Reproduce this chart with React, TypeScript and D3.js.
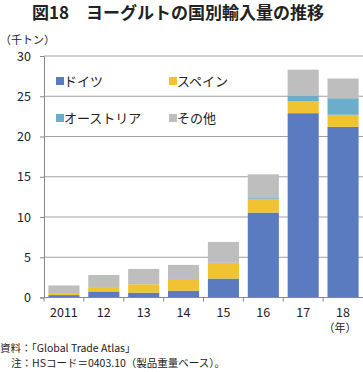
import React, { useEffect, useRef } from 'react';
import * as d3 from 'd3';

const years = ['2011', '12', '13', '14', '15', '16', '17', '18'];
const germany = [0.3, 0.75, 0.6, 0.85, 2.35, 10.55, 22.9, 21.2];
const spain = [0.15, 0.55, 1.05, 1.45, 1.95, 1.7, 1.5, 1.5];
const austria = [0, 0, 0, 0, 0, 0.1, 0.7, 2.05];
const other = [1.05, 1.5, 1.9, 1.75, 2.6, 2.95, 3.2, 2.45];
const seriesNames = ['ドイツ', 'スペイン', 'オーストリア', 'その他'];
const seriesColors = ['#5b7bc0', '#f1c231', '#6badca', '#bebebe'];
const yTicks = [0, 5, 10, 15, 20, 25, 30];

const FONT = '"Noto Sans CJK JP", "Noto Sans", sans-serif';

export default function App() {
  const svgRef = useRef<SVGSVGElement>(null);

  useEffect(() => {
    if (!svgRef.current) return;
    draw();
  }, []);

  const draw = () => {
    const svg = d3.select(svgRef.current);
    svg.selectAll('*').remove();

    const left = 44;
    const right = 363;
    const top = 56;
    const bottom = 297.5;

    const x = d3.scaleBand().domain(years).range([left, right]).paddingInner(0.22).paddingOuter(0.11);
    const y = d3.scaleLinear().domain([0, 30]).range([bottom, top]);

    // Title
    svg.append('text')
      .attr('x', 178)
      .attr('y', 19)
      .attr('text-anchor', 'middle')
      .style('font-family', FONT)
      .style('font-size', '17px')
      .style('font-weight', 'bold')
      .style('fill', '#222')
      .text('図18　ヨーグルトの国別輸入量の推移');

    svg.append('text')
      .attr('x', 0)
      .attr('y', 44)
      .style('font-family', FONT)
      .style('font-size', '11px')
      .style('fill', '#222')
      .text('（千トン）');

    // Gridlines
    svg.append('g')
      .selectAll('line')
      .data(yTicks.filter((t) => t > 0))
      .enter()
      .append('line')
      .attr('x1', left)
      .attr('x2', right)
      .attr('y1', (d) => y(d))
      .attr('y2', (d) => y(d))
      .attr('stroke', '#a3a3a3')
      .attr('stroke-width', 1);

    // Stacked bars
    const rows = years.map((yr, i) => ({
      year: yr,
      s0: germany[i],
      s1: spain[i],
      s2: austria[i],
      s3: other[i],
    }));
    const stack = d3.stack<any>().keys(['s0', 's1', 's2', 's3']);
    const layers = stack(rows);

    svg.append('g')
      .selectAll('g')
      .data(layers)
      .enter()
      .append('g')
      .attr('fill', (_d, i) => seriesColors[i])
      .selectAll('rect')
      .data((d) => d)
      .enter()
      .append('rect')
      .attr('x', (d: any) => x(d.data.year) as number)
      .attr('width', x.bandwidth())
      .attr('y', (d: any) => y(d[1]))
      .attr('height', (d: any) => Math.max(0, y(d[0]) - y(d[1])));

    // Y axis
    const yAxis = svg.append('g')
      .attr('transform', `translate(${left},0)`)
      .call(d3.axisLeft(y).tickValues(yTicks).tickSize(4).tickPadding(9));
    yAxis.select('.domain').attr('stroke', '#888');
    yAxis.selectAll('line').attr('stroke', '#888');
    yAxis.selectAll('text')
      .style('font-family', FONT)
      .style('font-size', '12.5px')
      .style('fill', '#222');

    // X axis
    const xAxis = svg.append('g').attr('transform', `translate(0,${bottom})`);
    xAxis.append('line')
      .attr('x1', left)
      .attr('x2', right)
      .attr('stroke', '#888');
    const step = x.step();
    xAxis.selectAll('.tk')
      .data(years)
      .enter()
      .append('line')
      .attr('class', 'tk')
      .attr('x1', (d) => (x(d) as number) + x.bandwidth() / 2 - step / 2)
      .attr('x2', (d) => (x(d) as number) + x.bandwidth() / 2 - step / 2)
      .attr('y1', 0)
      .attr('y2', 4)
      .attr('stroke', '#888');
    xAxis.selectAll('.lb')
      .data(years)
      .enter()
      .append('text')
      .attr('class', 'lb')
      .attr('x', (d) => (x(d) as number) + x.bandwidth() / 2)
      .attr('y', 19.5)
      .attr('text-anchor', 'middle')
      .style('font-family', FONT)
      .style('font-size', '12.5px')
      .style('fill', '#222')
      .text((d) => d);
    svg.append('text')
      .attr('x', (x('18') as number) + x.bandwidth() / 2 - 3)
      .attr('y', 331.5)
      .attr('text-anchor', 'middle')
      .style('font-family', FONT)
      .style('font-size', '11px')
      .style('fill', '#222')
      .text('（年）');

    // Legend
    const legendPos = [
      [56, 77],
      [169, 77],
      [56, 114],
      [169, 114],
    ];
    seriesNames.forEach((name, i) => {
      const g = svg.append('g').attr('transform', `translate(${legendPos[i][0]},${legendPos[i][1]})`);
      g.append('rect').attr('width', 8).attr('height', 8).attr('fill', seriesColors[i]);
      g.append('text')
        .attr('x', 8)
        .attr('y', 8.5)
        .style('font-family', FONT)
        .style('font-size', '13px')
        .style('fill', '#222')
        .text(name);
    });

    // Footer
    svg.append('text')
      .attr('x', 0)
      .attr('y', 352)
      .style('font-family', FONT)
      .style('font-size', '10.5px')
      .style('fill', '#222')
      .text('資料：「Global Trade Atlas」');
    svg.append('text')
      .attr('x', 11)
      .attr('y', 367)
      .style('font-family', FONT)
      .style('font-size', '10.5px')
      .style('fill', '#222')
      .text('注：HSコード＝0403.10（製品重量ベース）。');
  };

  return (
    <svg
      ref={svgRef}
      width={363}
      height={372}
      style={{ position: 'absolute', left: 0, top: 0, background: '#fff' }}
    ></svg>
  );
}
